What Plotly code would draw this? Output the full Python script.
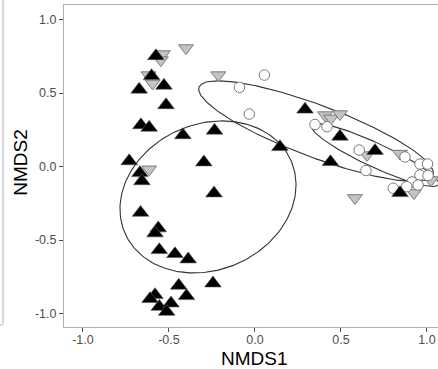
import numpy as np
import plotly.graph_objects as go

# ---- data (NMDS scores) ----
black_x = [-0.576, -0.601, -0.673, -0.529, -0.517, -0.663, -0.615, -0.419, -0.235, -0.731,
           -0.297, -0.669, -0.657, -0.238, -0.665, -0.562, -0.581, -0.556, -0.465, -0.388,
           -0.244, -0.443, -0.398, -0.581, -0.556, -0.488, -0.513, -0.610,
           0.291, 0.145, 0.494, 0.439, 0.698, 0.843]
black_y = [0.752, 0.616, 0.524, 0.551, 0.418, 0.282, 0.265, 0.214, 0.245, 0.037,
           0.029, -0.044, -0.099, -0.182, -0.314, -0.420, -0.454, -0.568, -0.595, -0.631,
           -0.795, -0.810, -0.881, -0.874, -0.954, -0.931, -0.988, -0.901,
           0.388, 0.133, 0.204, 0.031, 0.107, -0.180]

grey_x = [-0.535, -0.547, -0.401, -0.619, -0.595, -0.213, -0.615, 0.407, 0.442, 0.494,
          0.651, 0.843, 1.023, 0.924, 0.581]
grey_y = [0.765, 0.724, 0.806, 0.622, 0.566, 0.622, -0.019, 0.350, 0.328, 0.357,
          0.078, 0.088, -0.092, -0.180, -0.214]

open_x = [0.055, -0.090, -0.033, 0.349, 0.419, 0.606, 0.645, 0.872, 0.959, 1.003,
          0.959, 1.006, 0.913, 0.882, 0.804, 0.948]
open_y = [0.622, 0.539, 0.357, 0.286, 0.271, 0.112, -0.027, 0.065, 0.017, 0.017,
          -0.058, -0.061, -0.105, -0.137, -0.148, -0.126]

# ellipses: centre and 2x2 shape matrix (data units)
ell_centres = [(-0.273, -0.207), (0.355, 0.241), (0.698, 0.078)]
ell_mats = [[[0.483, -0.169], [0.246, 0.455]],
            [[0.680, 0.0532], [-0.299, 0.166]],
            [[0.369, 0.0295], [-0.201, 0.0741]]]

tick_vals = [-1.0, -0.5, 0.0, 0.5, 1.0]
tick_text = ["-1.0", "-0.5", "0.0", "0.5", "1.0"]

# ---- figure ----
fig = go.Figure()

t = np.linspace(0, 2 * np.pi, 241)
for (cx, cy), m in zip(ell_centres, ell_mats):
    ex = cx + m[0][0] * np.cos(t) + m[0][1] * np.sin(t)
    ey = cy + m[1][0] * np.cos(t) + m[1][1] * np.sin(t)
    fig.add_trace(go.Scatter(x=ex, y=ey, mode="lines",
                             line=dict(color="#333333", width=1.1),
                             hoverinfo="skip", showlegend=False))

fig.add_trace(go.Scatter(x=grey_x, y=grey_y, mode="markers", showlegend=False,
                         marker=dict(symbol="triangle-down", size=13, color="#c4c4c4",
                                     line=dict(color="#7a7a7a", width=1))))
fig.add_trace(go.Scatter(x=open_x, y=open_y, mode="markers", showlegend=False,
                         marker=dict(symbol="circle", size=10.5, color="white",
                                     line=dict(color="#7a7a7a", width=1))))
fig.add_trace(go.Scatter(x=black_x, y=black_y, mode="markers", showlegend=False,
                         marker=dict(symbol="triangle-up", size=14.5, color="black",
                                     line=dict(color="#555555", width=0.6))))

axis_common = dict(showgrid=False, zeroline=False, ticks="outside", ticklen=4,
                   tickcolor="#4d4d4d", tickwidth=1, showline=True,
                   linecolor="#b0b0b0", linewidth=1,
                   tickvals=tick_vals, ticktext=tick_text,
                   tickfont=dict(family="Liberation Sans, Arial", size=12.5, color="#4d4d4d"))

fig.update_xaxes(range=[-1.110, 1.064], mirror=True, ticklabelstandoff=-3, **axis_common)
fig.update_yaxes(range=[-1.092, 1.099], mirror=False, **axis_common)

fig.add_annotation(text="NMDS1", xref="paper", yref="paper", x=0.509, y=-0.097,
                   showarrow=False, xanchor="center", yanchor="middle",
                   font=dict(family="Liberation Sans, Arial", size=19, color="black"))
fig.add_annotation(text="NMDS2", xref="paper", yref="paper", x=-0.115, y=0.513,
                   showarrow=False, xanchor="center", yanchor="middle", textangle=-90,
                   font=dict(family="Liberation Sans, Arial", size=19, color="black"))

# edge of the neighbouring panel visible at the left
fig.add_shape(type="path", xref="paper", yref="paper",
              path="M -0.163 1.02 L -0.163 0.012 Q -0.163 0.0062 -0.168 0.0062 L -0.175 0.0062",
              line=dict(color="#b0b0b0", width=1))

fig.update_layout(width=438, height=369, margin=dict(l=64, r=0, t=5, b=42),
                  plot_bgcolor="white", paper_bgcolor="white")

fig.write_html("out.html")
